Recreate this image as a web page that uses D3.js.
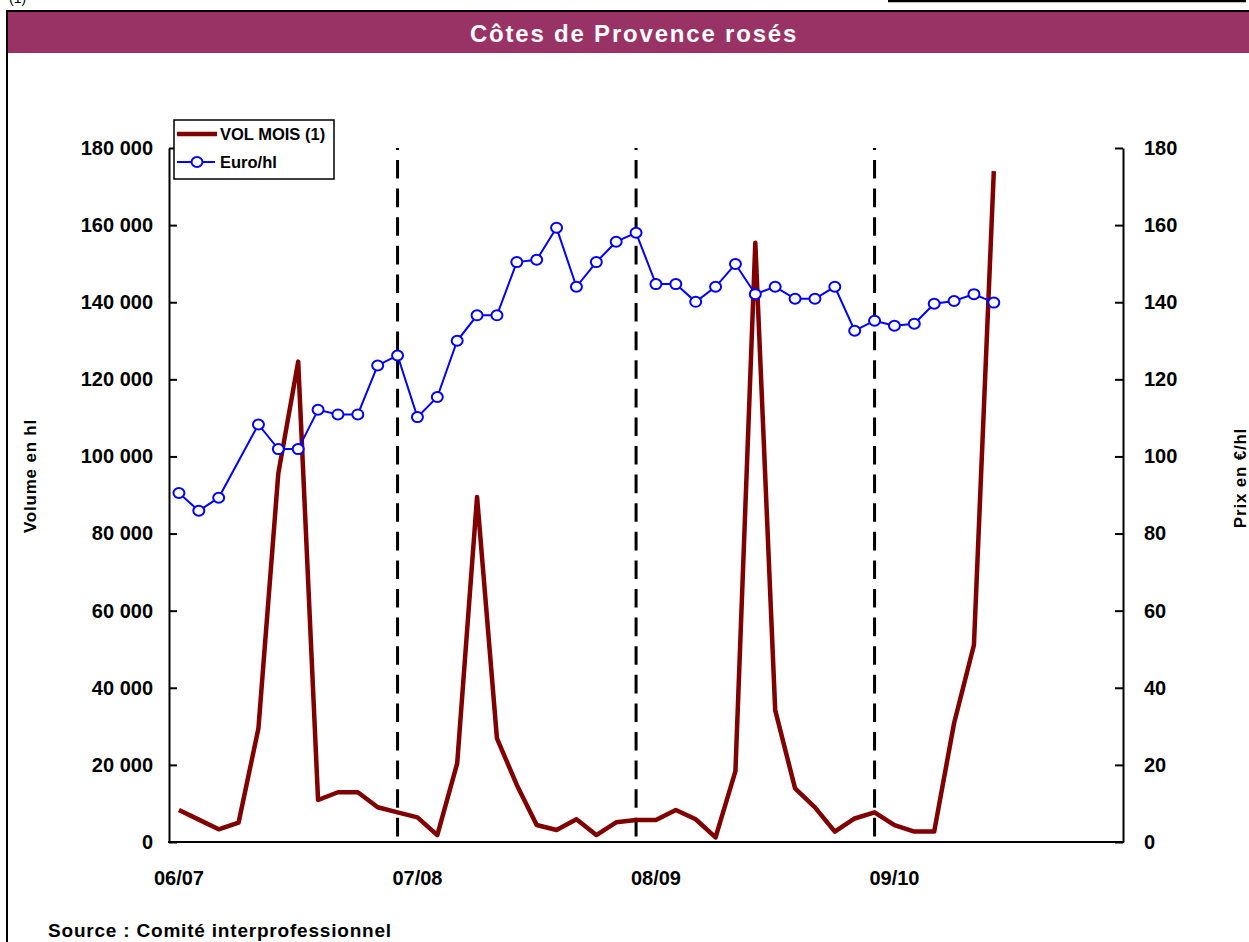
<!DOCTYPE html>
<html>
<head>
<meta charset="utf-8">
<script src="https://cdn.jsdelivr.net/npm/d3@7"></script>
<style>
  body{ margin:0; background:#fff; }
  svg{ display:block; font-family:"Liberation Sans", Arial, sans-serif; font-weight:bold; }
</style>
</head>
<body>
<svg id="chart" width="1249" height="942"></svg>
<script>
/* ===== Côtes de Provence rosés — monthly volume + price ===== */

// 48 monthly slots on the category axis (4 campaigns), data fills the first 42
const N_SLOTS = 48;
const campaignLabels = ["06/07", "07/08", "08/09", "09/10"];
const campaignStart  = [0, 12, 24, 36];   // slot index of each label
const campaignBreaks = [11, 23, 35];      // dashed separators

// VOL MOIS (1), hl
const volMois = [
  8300, 5800, 3300, 5000, 29500, 95600, 124600, 10900, 12900, 12900, 9000, 7700,
  6400, 1800, 20400, 89500, 26900, 14800, 4400, 3100, 5900, 1800, 5100, 5700,
  5700, 8300, 5900, 1200, 18400, 155400, 34200, 13900, 9000, 2700, 6100, 7700,
  4400, 2700, 2700, 30800, 51100, 174000
];
// Euro/hl (missing month = null, line skips over it)
const euroHl = [
  90.5, 85.9, 89.3, null, 108.3, 101.9, 101.9, 112.1, 110.9, 110.9, 123.6, 126.2,
  110.2, 115.4, 130.0, 136.6, 136.6, 150.4, 151.0, 159.3, 144.0, 150.4, 155.7, 158.0,
  144.7, 144.7, 140.1, 144.0, 149.9, 142.1, 144.0, 140.9, 140.9, 144.0, 132.6, 135.2,
  133.9, 134.4, 139.6, 140.3, 142.1, 139.9
];
const volTicks   = d3.range(0, 180001, 20000);
const priceTicks = d3.range(0, 181, 20);

const RED  = "#800000";
const BLUE = "#0000ff";
const P = { l:169, r:1123, t:148, b:842 };

const svg = d3.select("#chart");

/* ---------- frame + header ---------- */
svg.append("line").attr("x1",888).attr("x2",1246).attr("y1",1).attr("y2",1)
  .attr("stroke","#000").attr("stroke-width",2.5);
svg.append("text").attr("x",9).attr("y",3).attr("font-size",14).attr("font-weight","normal").text("(1)");

svg.append("rect").attr("x",8).attr("y",12).attr("width",1241).attr("height",41).attr("fill","#993366");
svg.append("line").attr("x1",6).attr("x2",1249).attr("y1",11).attr("y2",11)
  .attr("stroke","#000").attr("stroke-width",2);
svg.append("line").attr("x1",7).attr("x2",7).attr("y1",10).attr("y2",942)
  .attr("stroke","#000").attr("stroke-width",2);

svg.append("text").attr("x",634).attr("y",42).attr("text-anchor","middle")
  .attr("fill","#fff").attr("font-size",24).attr("letter-spacing",1.8)
  .text("Côtes de Provence rosés");

/* ---------- scales ---------- */
const x  = d3.scaleBand().domain(d3.range(N_SLOTS)).range([P.l, P.r]);
const cx = i => x(i) + x.bandwidth()/2;
const yL = d3.scaleLinear().domain([0, 180000]).range([P.b, P.t]);
const yR = d3.scaleLinear().domain([0, 180]).range([P.b, P.t]);

/* ---------- axes ---------- */
const fmtVol = d => d3.format(",")(d).replace(/,/g, " ");

const gL = svg.append("g").attr("transform",`translate(${P.l},0)`)
  .call(d3.axisLeft(yL).tickValues(volTicks).tickFormat(fmtVol)
    .tickSize(-8).tickSizeOuter(0).tickPadding(16));
const gR = svg.append("g").attr("transform",`translate(${P.r},0)`)
  .call(d3.axisRight(yR).tickValues(priceTicks)
    .tickSize(-8).tickSizeOuter(0).tickPadding(21));
[gL, gR].forEach(g => {
  g.attr("font-family",null).attr("font-size",null);
  g.select(".domain").attr("stroke","#000").attr("stroke-width",2);
  g.selectAll(".tick line").attr("stroke","#000").attr("stroke-width",2);
  g.selectAll(".tick text").attr("font-size",20).attr("fill","#000");
});

svg.append("line").attr("x1",P.l-1).attr("x2",P.r+1).attr("y1",P.b).attr("y2",P.b)
  .attr("stroke","#000").attr("stroke-width",2);

svg.append("g").selectAll("text").data(campaignLabels).join("text")
  .attr("x",(d,i)=>cx(campaignStart[i])).attr("y",885)
  .attr("text-anchor","middle").attr("font-size",20).text(d=>d);

/* axis titles */
svg.append("text").attr("transform","translate(36,476) rotate(-90)")
  .attr("text-anchor","middle").attr("font-size",17).attr("letter-spacing",0.8).text("Volume en hl");
svg.append("text").attr("transform","translate(1246,478) rotate(-90)")
  .attr("text-anchor","middle").attr("font-size",17).attr("letter-spacing",0.8).text("Prix en €/hl");

/* ---------- campaign separators ---------- */
svg.append("g").selectAll("line").data(campaignBreaks).join("line")
  .attr("x1",d=>cx(d)).attr("x2",d=>cx(d)).attr("y1",P.t).attr("y2",P.b)
  .attr("stroke","#000").attr("stroke-width",3)
  .attr("stroke-dasharray","18.6,10").attr("stroke-dashoffset",16.6);

/* ---------- series ---------- */
const volPts = volMois.map((v,i)=>[cx(i), yL(v)]);
svg.append("path").attr("d", d3.line()(volPts))
  .attr("fill","none").attr("stroke",RED).attr("stroke-width",4.5).attr("stroke-linejoin","round");

const pricePts = euroHl.map((v,i)=>({i,v})).filter(d=>d.v!=null);
svg.append("path").attr("d", d3.line().x(d=>cx(d.i)).y(d=>yR(d.v))(pricePts))
  .attr("fill","none").attr("stroke",BLUE).attr("stroke-width",2);
svg.append("g").selectAll("ellipse").data(pricePts).join("ellipse")
  .attr("cx",d=>cx(d.i)).attr("cy",d=>yR(d.v)).attr("rx",5.5).attr("ry",5)
  .attr("fill","#fff").attr("stroke",BLUE).attr("stroke-width",2);

/* ---------- legend ---------- */
const lg = svg.append("g");
lg.append("rect").attr("x",174).attr("y",120).attr("width",160).attr("height",59)
  .attr("fill","#fff").attr("stroke","#000").attr("stroke-width",1.5);
lg.append("line").attr("x1",177).attr("x2",217).attr("y1",134).attr("y2",134)
  .attr("stroke",RED).attr("stroke-width",4.5);
lg.append("text").attr("x",220).attr("y",140).attr("font-size",16.5).text("VOL MOIS (1)");
lg.append("line").attr("x1",177).attr("x2",215).attr("y1",162).attr("y2",162)
  .attr("stroke",BLUE).attr("stroke-width",2);
lg.append("ellipse").attr("cx",197).attr("cy",162).attr("rx",5.5).attr("ry",5)
  .attr("fill","#fff").attr("stroke",BLUE).attr("stroke-width",2);
lg.append("text").attr("x",220).attr("y",168).attr("font-size",16.5).text("Euro/hl");

/* ---------- source ---------- */
svg.append("text").attr("x",48).attr("y",937).attr("font-size",19)
  .attr("letter-spacing",0.8).text("Source : Comité interprofessionnel");
</script>
</body>
</html>
